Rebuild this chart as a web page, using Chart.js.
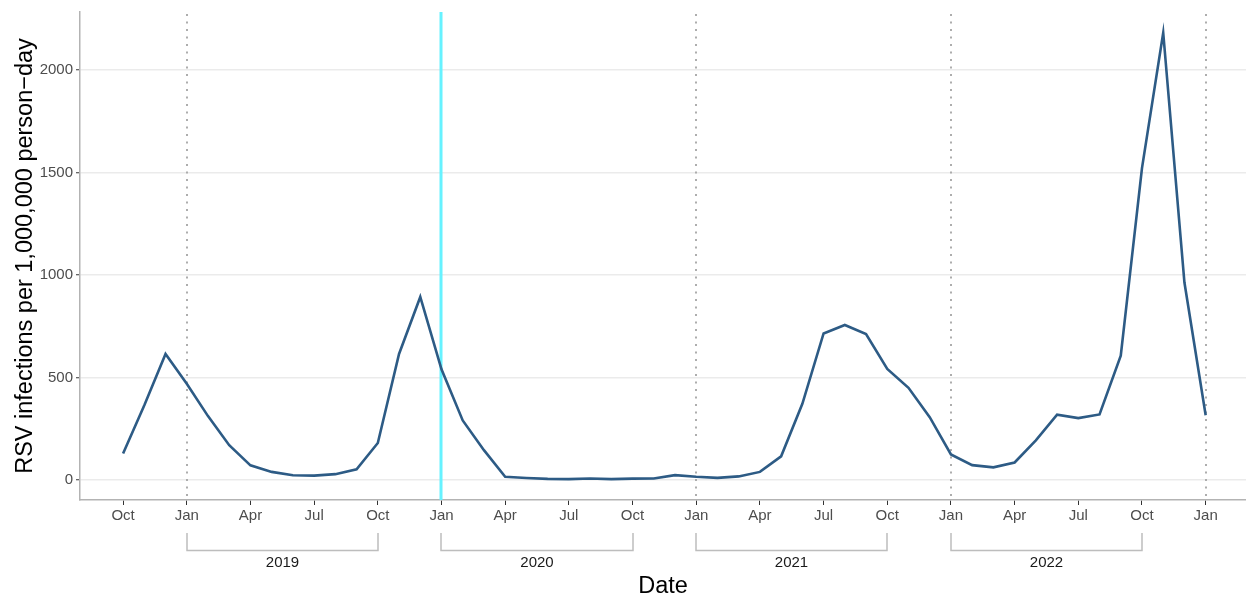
<!DOCTYPE html>
<html>
<head>
<meta charset="utf-8">
<script src="https://cdn.jsdelivr.net/npm/chart.js@4/dist/chart.umd.min.js"></script>
<style>
  body { margin: 0; background: #fff; }
  canvas { display: block; }
</style>
</head>
<body>
<canvas id="rsvChart" width="1246" height="598"></canvas>
<script>
// monthly points, Oct 2018 .. Jan 2023 (index 0 = Oct 2018)
const rsvRate = [
    130, 365, 615, 470, 312, 170, 72, 40, 24, 22, 29, 53,
    181, 615, 893, 540, 291, 146, 16, 10, 6, 5, 8, 5,
    7, 8, 24, 16, 11, 18, 40, 116, 372, 715, 756, 712,
    542, 450, 307, 125, 73, 62, 86, 194, 319, 302, 320, 607,
    1521, 2181, 963, 316
];
// one label every 3 months, starting at index 0
const tickLabels = ["Oct", "Jan", "Apr", "Jul", "Oct", "Jan", "Apr", "Jul", "Oct",
    "Jan", "Apr", "Jul", "Oct", "Jan", "Apr", "Jul", "Oct", "Jan"];
const yTicks = [0, 500, 1000, 1500, 2000];
const years = ["2019", "2020", "2021", "2022"];
const yearStart = [3, 15, 27, 39];   // Jan of each year
const yearEnd = [12, 24, 36, 48];    // Oct of each year
const janLines = [3, 27, 39, 51];    // dotted
const cutLine = 15;                  // cyan, Jan 2020

const FONT = "'Liberation Sans', Arial, sans-serif";

const refLines = {
    id: "refLines",
    beforeDatasetsDraw(chart) {
        const { ctx, chartArea, scales: { x } } = chart;
        ctx.save();
        ctx.strokeStyle = "#adadad";
        ctx.lineWidth = 2;
        ctx.setLineDash([2, 5.5]);
        janLines.forEach(v => {
            const px = Math.round(x.getPixelForValue(v));
            ctx.beginPath();
            ctx.moveTo(px, chartArea.top + 2);
            ctx.lineTo(px, chartArea.bottom);
            ctx.stroke();
        });
        ctx.setLineDash([]);
        ctx.strokeStyle = "#66f2ff";
        ctx.lineWidth = 3;
        const cx = Math.round(x.getPixelForValue(cutLine));
        ctx.beginPath();
        ctx.moveTo(cx, chartArea.top);
        ctx.lineTo(cx, chartArea.bottom);
        ctx.stroke();
        ctx.restore();
    },
    afterDraw(chart) {
        const { ctx, scales: { x } } = chart;
        ctx.save();
        ctx.strokeStyle = "#bdbdbd";
        ctx.lineWidth = 1.5;
        ctx.fillStyle = "#1a1a1a";
        ctx.font = "15px " + FONT;
        ctx.textAlign = "center";
        ctx.textBaseline = "middle";
        years.forEach((label, i) => {
            const x0 = Math.round(x.getPixelForValue(yearStart[i]));
            const x1 = Math.round(x.getPixelForValue(yearEnd[i]));
            ctx.beginPath();
            ctx.moveTo(x0, 533);
            ctx.lineTo(x0, 550.5);
            ctx.lineTo(x1, 550.5);
            ctx.lineTo(x1, 533);
            ctx.stroke();
            ctx.fillText(label, (x0 + x1) / 2, 563);
        });
        ctx.restore();
    }
};

new Chart(document.getElementById("rsvChart"), {
    type: "line",
    data: {
        datasets: [{
            data: rsvRate.map((v, i) => ({ x: i, y: v })),
            borderColor: "#2d5b85",
            borderWidth: 2.6,
            pointRadius: 0,
            tension: 0,
            fill: false
        }]
    },
    options: {
        responsive: false,
        animation: false,
        layout: { padding: { top: 10, right: 0, left: 0, bottom: 0 } },
        plugins: { legend: { display: false }, tooltip: { enabled: false } },
        scales: {
            x: {
                type: "linear",
                min: -2.03,
                max: 52.9,
                afterFit: s => { s.height = 98; },
                afterBuildTicks: s => { s.ticks = tickLabels.map((_, i) => ({ value: i * 3 })); },
                ticks: {
                    callback: (v) => tickLabels[v / 3],
                    color: "#4d4d4d",
                    font: { family: FONT, size: 15 },
                    padding: 2,
                    maxRotation: 0,
                    autoSkip: false
                },
                grid: { drawOnChartArea: false, drawTicks: true, tickLength: 5, tickColor: "#333333", tickWidth: 1 },
                border: { color: "#b3b3b3", width: 1.5 },
                title: {
                    display: true,
                    text: "Date",
                    color: "#000",
                    font: { family: FONT, size: 23.5, lineHeight: 1 },
                    padding: { top: 0, bottom: 0 }
                }
            },
            y: {
                min: -97,
                max: 2282,
                afterFit: s => { s.width = 80; },
                afterBuildTicks: s => { s.ticks = yTicks.map(v => ({ value: v })); },
                ticks: {
                    callback: (v) => String(v),
                    color: "#4d4d4d",
                    font: { family: FONT, size: 15 },
                    padding: 3
                },
                grid: { color: "#ebebeb", lineWidth: 1.5, tickLength: 4, tickColor: "#333333", tickWidth: 1 },
                border: { color: "#b3b3b3", width: 1.5 },
                title: {
                    display: true,
                    text: "RSV infections per 1,000,000 person\u2212day",
                    color: "#000",
                    font: { family: FONT, size: 23.5, lineHeight: 1.2 },
                    padding: { top: 11, bottom: 0 }
                }
            }
        }
    },
    plugins: [refLines]
});
</script>
</body>
</html>
